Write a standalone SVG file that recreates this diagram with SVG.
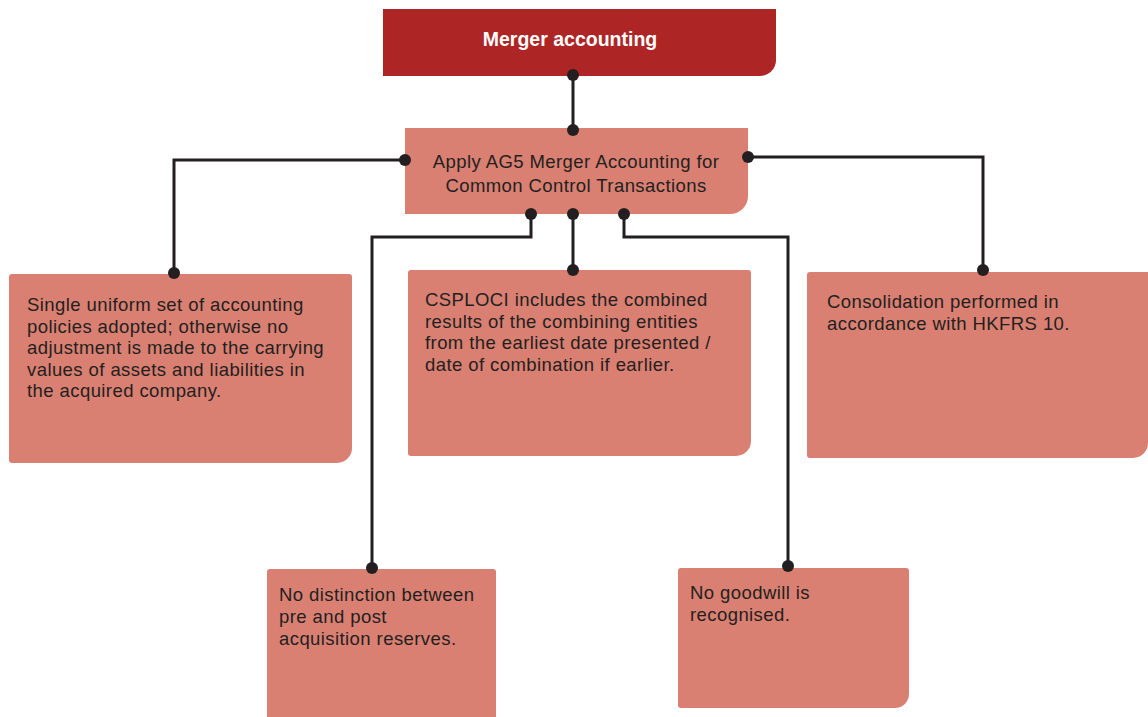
<svg xmlns="http://www.w3.org/2000/svg" width="1148" height="717" viewBox="0 0 1148 717">
<style>
.box{fill:#D98072}
.title{fill:#AE2525}
.t{font-family:"Liberation Sans",Arial,sans-serif;font-size:18.5px;letter-spacing:0.42px;fill:#231F20}
.tt{font-family:"Liberation Sans",Arial,sans-serif;font-size:19.5px;font-weight:bold;fill:#FFFFFF}
.c{fill:none;stroke:#231F20;stroke-width:3}
.d{fill:#231F20}
</style>
<rect width="1148" height="717" fill="#FFFFFF"/>
<g id="merger-accounting">
<path class="title" d="M383,9 H776 V60 A16,16 0 0 1 760,76 H383 Z"/>
<text class="tt" x="570" y="46" text-anchor="middle">Merger accounting</text>
</g>
<g id="apply-ag5">
<path class="box" d="M405,128 H748 V196 A18,18 0 0 1 730,214 H405 Z"/>
<text class="t" x="576" y="168" text-anchor="middle">Apply AG5 Merger Accounting for</text>
<text class="t" x="576" y="192" text-anchor="middle">Common Control Transactions</text>
</g>
<g id="uniform-policies">
<path class="box" d="M12,274 H349 A3,3 0 0 1 352,277 V448 A15,15 0 0 1 337,463 H12 A3,3 0 0 1 9,460 V277 A3,3 0 0 1 12,274 Z"/>
<text class="t" x="27" y="311">Single uniform set of accounting</text>
<text class="t" x="27" y="333">policies adopted; otherwise no</text>
<text class="t" x="27" y="354">adjustment is made to the carrying</text>
<text class="t" x="27" y="376">values of assets and liabilities in</text>
<text class="t" x="27" y="397">the acquired company.</text>
</g>
<g id="csploci">
<path class="box" d="M411,270 H748 A3,3 0 0 1 751,273 V441 A15,15 0 0 1 736,456 H411 A3,3 0 0 1 408,453 V273 A3,3 0 0 1 411,270 Z"/>
<text class="t" x="425" y="306">CSPLOCI includes the combined</text>
<text class="t" x="425" y="328">results of the combining entities</text>
<text class="t" x="425" y="349">from the earliest date presented /</text>
<text class="t" x="425" y="371">date of combination if earlier.</text>
</g>
<g id="consolidation">
<path class="box" d="M810,272 H1148 V443 A15,15 0 0 1 1133,458 H810 A3,3 0 0 1 807,455 V275 A3,3 0 0 1 810,272 Z"/>
<text class="t" x="827" y="308">Consolidation performed in</text>
<text class="t" x="827" y="330">accordance with HKFRS 10.</text>
</g>
<g id="no-distinction">
<path class="box" d="M270,569 H493 A3,3 0 0 1 496,572 V717 H267 V572 A3,3 0 0 1 270,569 Z"/>
<text class="t" x="279" y="601">No distinction between</text>
<text class="t" x="279" y="623">pre and post</text>
<text class="t" x="279" y="645">acquisition reserves.</text>
</g>
<g id="no-goodwill">
<path class="box" d="M681,568 H906 A3,3 0 0 1 909,571 V694 A14,14 0 0 1 895,708 H681 A3,3 0 0 1 678,705 V571 A3,3 0 0 1 681,568 Z"/>
<text class="t" x="690" y="599">No goodwill is</text>
<text class="t" x="690" y="621">recognised.</text>
</g>
<g id="connectors">
<path class="c" d="M573,75 V130"/>
<path class="c" d="M405,160 H174 V273"/>
<path class="c" d="M748,157 H983 V270"/>
<path class="c" d="M531,214 V237 H372 V568"/>
<path class="c" d="M573,214 V270"/>
<path class="c" d="M624,214 V237 H788 V566"/>
<circle class="d" cx="573" cy="75" r="6"/>
<circle class="d" cx="573" cy="130" r="6"/>
<circle class="d" cx="405" cy="160" r="6"/>
<circle class="d" cx="174" cy="273" r="6"/>
<circle class="d" cx="748" cy="157" r="6"/>
<circle class="d" cx="983" cy="270" r="6"/>
<circle class="d" cx="531" cy="214" r="6"/>
<circle class="d" cx="372" cy="568" r="6"/>
<circle class="d" cx="573" cy="214" r="6"/>
<circle class="d" cx="573" cy="270" r="6"/>
<circle class="d" cx="624" cy="214" r="6"/>
<circle class="d" cx="788" cy="566" r="6"/>
</g>
</svg>
